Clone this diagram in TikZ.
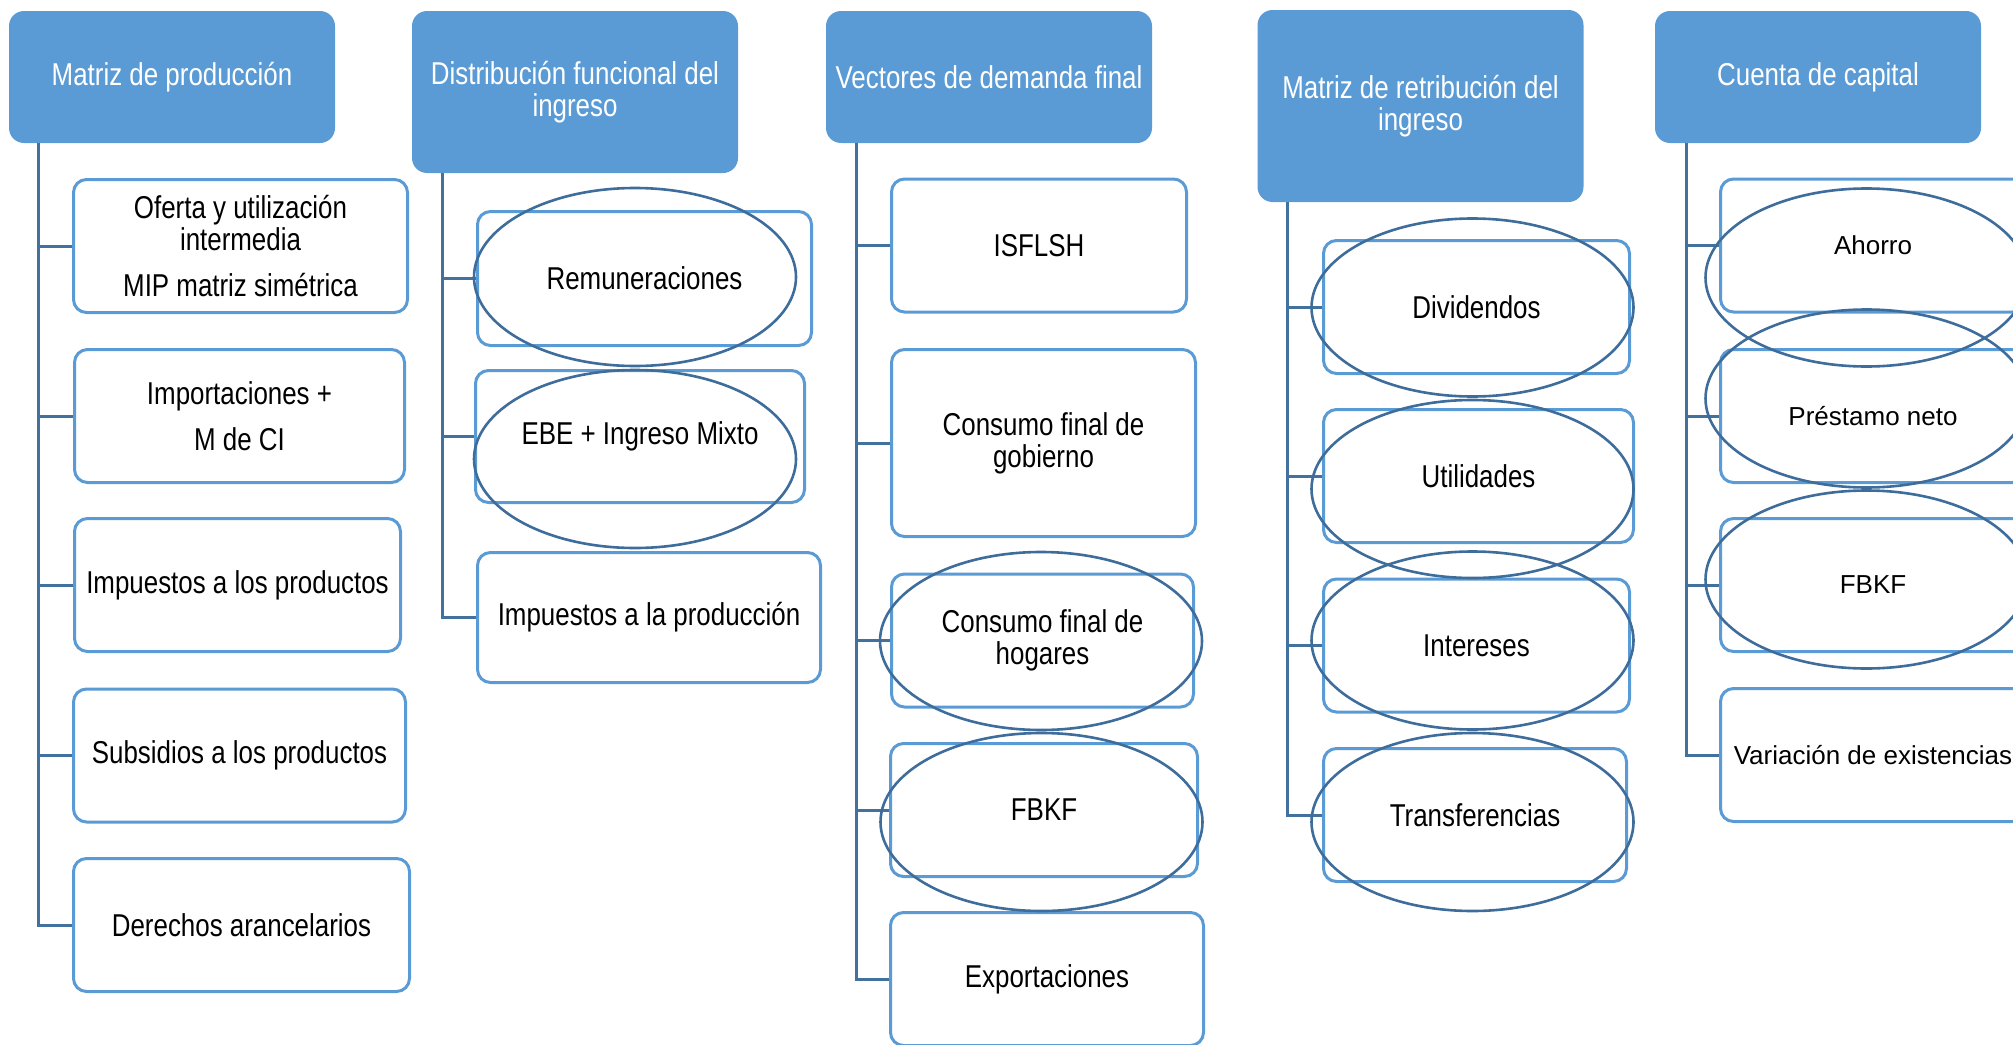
\documentclass[tikz,border=0pt]{standalone}
\usepackage{fontspec}
\setmainfont{Liberation Sans}[FakeStretch=0.82]
\newfontfamily\plainarial{Liberation Sans}
\usepackage{tikz}
\usetikzlibrary{shapes.geometric}

\definecolor{hdrblue}{HTML}{5B9BD5}
\definecolor{lineblue}{HTML}{41719C}
\definecolor{ovalblue}{HTML}{3E6D9B}

\tikzset{
  hdrbox/.style={fill = hdrblue, rounded corners = 7.5pt, text = white, align = center,
    minimum width = 163pt, inner sep = 2pt, font = \fontsize{15.8}{16}\selectfont},
  itembox/.style={draw = hdrblue, line width = 1.5pt, fill = white, rounded corners = 6.5pt,
    align = center, minimum height = 66.5pt, inner sep = 2pt, font = \fontsize{15.8}{16}\selectfont},
  widebox/.style={itembox, minimum width = 152.5pt, font = \plainarial\fontsize{13}{15}\selectfont},
  conn/.style={draw = lineblue, line width = 1.5pt},
  oval/.style={ellipse, draw = ovalblue, line width = 1.3pt, minimum width = 161pt, minimum height = 89pt},
}

\begin{document}
\begin{tikzpicture}[x=0.5pt, y=-0.5pt]
  \path[use as bounding box, clip] (0,0) rectangle (2013,1044);

  % headers
  \node[hdrbox, minimum height = 66pt] (h1) at (172,77) {Matriz de producción};
  \node[hdrbox, minimum height = 81pt] (h2) at (575,92) {Distribución funcional del\\ingreso};
  \node[hdrbox, minimum height = 66pt] (h3) at (989,77) {Vectores de demanda final};
  \node[hdrbox, minimum height = 96pt] (h4) at (1420.5,106) {Matriz de retribución del\\ingreso};
  \node[hdrbox, minimum height = 66pt] (h5) at (1818,77) {Cuenta de capital};

  % column 1
  \node[itembox, minimum width = 167pt] (c1a) at (240.5,246) {Oferta y utilización\\intermedia\\[7pt]MIP matriz simétrica};
  \node[itembox, minimum width = 165pt] (c1b) at (239.5,416) {Importaciones +\\[7pt]M de CI};
  \node[itembox, minimum width = 163pt] (c1c) at (237.5,585) {Impuestos a los productos};
  \node[itembox, minimum width = 166pt] (c1d) at (239.5,755.5) {Subsidios a los productos};
  \node[itembox, minimum width = 168pt] (c1e) at (241.5,925) {Derechos arancelarios};

  % column 2
  \node[itembox, minimum width = 167pt, minimum height = 67pt] (c2a) at (644.5,278.5) {Remuneraciones};
  \node[itembox, minimum width = 164.5pt, minimum height = 66pt] (c2b) at (640,436.5) {EBE + Ingreso Mixto};
  \node[itembox, minimum width = 171.5pt, minimum height = 65pt] (c2c) at (649,617.5) {Impuestos a la producción};

  % column 3
  \node[itembox, minimum width = 147.5pt] (c3a) at (1039,245.5) {ISFLSH};
  \node[itembox, minimum width = 152pt, minimum height = 93.5pt] (c3b) at (1043.5,443) {Consumo final de\\gobierno};
  \node[itembox, minimum width = 151pt] (c3c) at (1042.5,640.5) {Consumo final de\\hogares};
  \node[itembox, minimum width = 153.5pt] (c3d) at (1044,810) {FBKF};
  \node[itembox, minimum width = 156.5pt] (c3e) at (1047,979) {Exportaciones};

  % column 4
  \node[itembox, minimum width = 153pt] (c4a) at (1476.5,307) {Dividendos};
  \node[itembox, minimum width = 155pt] (c4b) at (1478.5,476) {Utilidades};
  \node[itembox, minimum width = 153pt] (c4c) at (1476.5,645.5) {Intereses};
  \node[itembox, minimum width = 151.5pt] (c4d) at (1475,815) {Transferencias};

  % column 5
  \node[widebox] (c5a) at (1873,245.5) {Ahorro};
  \node[widebox] (c5b) at (1873,416) {Préstamo neto};
  \node[widebox] (c5c) at (1873,585) {FBKF};
  \node[widebox] (c5d) at (1873,755) {Variación de existencias};

  % tree lines
  \draw[conn] ([xshift=15pt]h1.south west) |- (c1a.west);
  \draw[conn] ([xshift=15pt]h1.south west) |- (c1b.west);
  \draw[conn] ([xshift=15pt]h1.south west) |- (c1c.west);
  \draw[conn] ([xshift=15pt]h1.south west) |- (c1d.west);
  \draw[conn] ([xshift=15pt]h1.south west) |- (c1e.west);
  \draw[conn] ([xshift=15.5pt]h2.south west) |- (c2a.west);
  \draw[conn] ([xshift=15.5pt]h2.south west) |- (c2b.west);
  \draw[conn] ([xshift=15.5pt]h2.south west) |- (c2c.west);
  \draw[conn] ([xshift=15.5pt]h3.south west) |- (c3a.west);
  \draw[conn] ([xshift=15.5pt]h3.south west) |- (c3b.west);
  \draw[conn] ([xshift=15.5pt]h3.south west) |- (c3c.west);
  \draw[conn] ([xshift=15.5pt]h3.south west) |- (c3d.west);
  \draw[conn] ([xshift=15.5pt]h3.south west) |- (c3e.west);
  \draw[conn] ([xshift=15pt]h4.south west) |- (c4a.west);
  \draw[conn] ([xshift=15pt]h4.south west) |- (c4b.west);
  \draw[conn] ([xshift=15pt]h4.south west) |- (c4c.west);
  \draw[conn] ([xshift=15pt]h4.south west) |- (c4d.west);
  \draw[conn] ([xshift=16pt]h5.south west) |- (c5a.west);
  \draw[conn] ([xshift=16pt]h5.south west) |- (c5b.west);
  \draw[conn] ([xshift=16pt]h5.south west) |- (c5c.west);
  \draw[conn] ([xshift=16pt]h5.south west) |- (c5d.west);

  % highlight ovals
  \node[oval] (o2a) at (635,277) {};
  \node[oval] (o2b) at (635,459) {};
  \node[oval] (o3c) at (1041,641) {};
  \node[oval] (o3d) at (1041.5,822) {};
  \node[oval] (o4a) at (1472.5,307.5) {};
  \node[oval] (o4b) at (1472.5,489) {};
  \node[oval] (o4c) at (1472.5,640.5) {};
  \node[oval] (o4d) at (1472.5,822) {};
  \node[oval] (o5a) at (1866.5,277.5) {};
  \node[oval] (o5b) at (1866.5,398.5) {};
  \node[oval] (o5c) at (1866.5,579.5) {};
\end{tikzpicture}
\end{document}
